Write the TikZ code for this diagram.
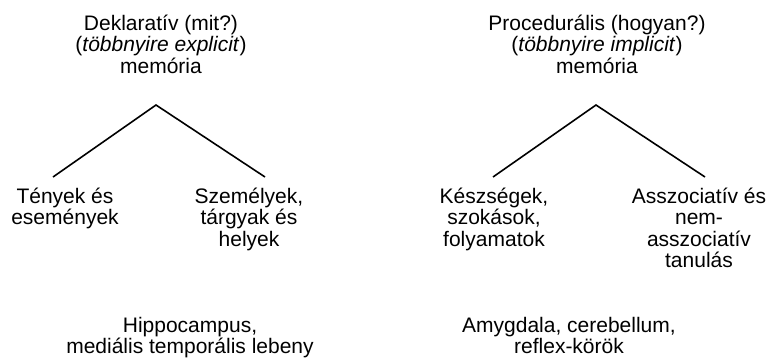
\documentclass[tikz,border=0pt]{standalone}
\usepackage{fontspec}
\setmainfont{Liberation Sans}
\usepackage{tikz}

\begin{document}
\begin{tikzpicture}[x=1pt,y=-1pt,
	txt/.style={align=center, anchor=base, inner sep=0pt, font={\fontsize{21}{21.5}\selectfont}},
	branch/.style={line width=1.6pt, line join=miter}]
	\useasboundingbox (0,0) rectangle (777,362);
	% declarative side (node base = baseline of last line)
	\node[txt] (decl) at (161,73) {Deklaratív (mit?)\\(\textit{többnyire explicit})\\memória};
	\coordinate (dtop) at (156,105);
	\coordinate (dleft) at (53,177);
	\coordinate (dright) at (265,177);
	\draw[branch] (dleft) -- (dtop) -- (dright);
	\node[txt] (tenyek) at (65,224.5) {Tények és\\események};
	\node[txt] (szemelyek) at (249,246) {Személyek,\\tárgyak és\\helyek};
	\node[txt] (hippo) at (190,353.5) {Hippocampus,\\mediális temporális lebeny};
	% procedural side
	\node[txt] (proc) at (597,73) {Procedurális (hogyan?)\\(\textit{többnyire implicit})\\memória};
	\coordinate (ptop) at (596,105);
	\coordinate (pleft) at (493,177);
	\coordinate (pright) at (705,177);
	\draw[branch] (pleft) -- (ptop) -- (pright);
	\node[txt] (keszseg) at (494,246) {Készségek,\\szokások,\\folyamatok};
	\node[txt] (asszoc) at (699,267.5) {Asszociatív és\\nem-\\asszociatív\\tanulás};
	\node[txt] (amygdala) at (569,353.5) {Amygdala, cerebellum,\\reflex-körök};
\end{tikzpicture}
\end{document}
